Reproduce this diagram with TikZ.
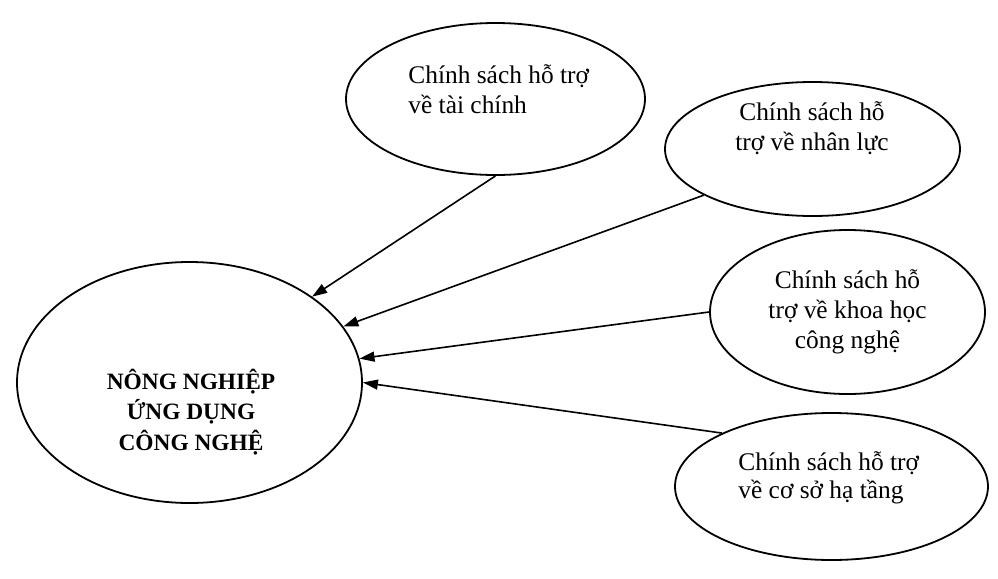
\documentclass[tikz,border=0pt]{standalone}
\usepackage{fontspec}
\setmainfont{Liberation Serif}
\usetikzlibrary{shapes.geometric,arrows.meta}

\begin{document}
\begin{tikzpicture}[x=0.5pt,y=-0.5pt,
        bubble/.style={draw,ellipse,line width=0.9pt,inner sep=0pt},
        policy/.style={inner sep=0pt,font=\fontsize{12.7}{15}\selectfont},
        link/.style={-{Triangle[length=7.5pt,width=5pt]},line width=0.8pt}]
        \useasboundingbox (0,0) rectangle (998,579);

        \node[bubble,minimum width=172.5pt,minimum height=120.5pt] (nn) at (189.5,382.5) {};
        \node[bubble,minimum width=149.5pt,minimum height=76pt] (tc) at (495.5,99) {};
        \node[bubble,minimum width=147.5pt,minimum height=67pt] (nl) at (812.5,149) {};
        \node[bubble,minimum width=137.5pt,minimum height=82pt] (kh) at (847.5,312) {};
        \node[bubble,minimum width=156.5pt,minimum height=73.5pt] (ht) at (831.5,486.5) {};

        \node[inner sep=0pt,font=\fontsize{11.7}{15.25}\selectfont\bfseries,align=center,anchor=base] (nntext) at (191,450)
            {NÔNG NGHIỆP\\ỨNG DỤNG\\CÔNG NGHỆ};
        \node[policy,align=left,anchor=base west] (tctext) at (408,113) {Chính sách hỗ trợ\\về tài chính};
        \node[policy,align=center,anchor=base] (nltext) at (812,150) {Chính sách hỗ\\trợ về nhân lực};
        \node[policy,align=center,anchor=base] (khtext) at (847.5,348) {Chính sách hỗ\\trợ về khoa học\\công nghệ};
        \node[policy,align=left,anchor=base west,font=\fontsize{12.7}{14}\selectfont] (httext) at (738,498)
            {Chính sách hỗ trợ\\về cơ sở hạ tầng};

        \draw[link] (tc.south) -- (nn.35);
        \draw[link] (nl.203) -- (nn.20);
        \draw[link] (kh.west) -- (nn.8);
        \draw[link] (ht.154) -- (nn.east);
    \end{tikzpicture}
\end{document}
